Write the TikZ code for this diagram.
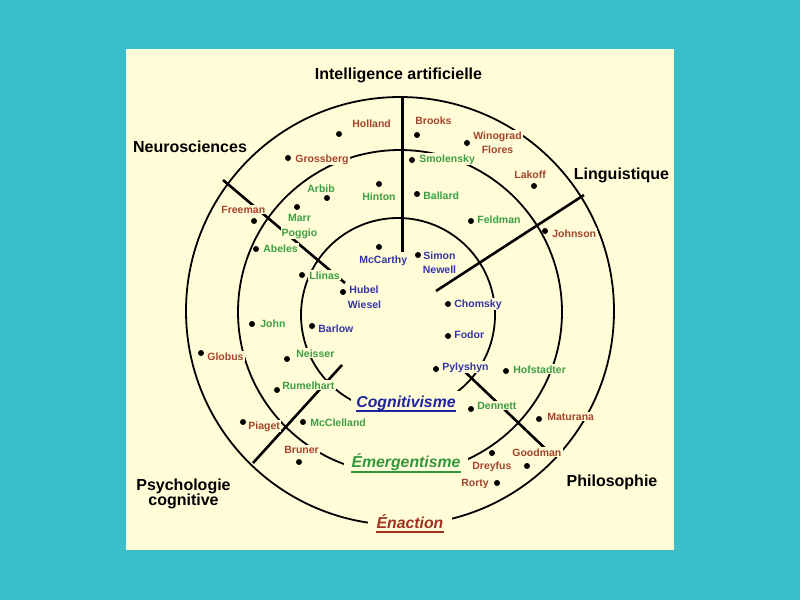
\documentclass[tikz,border=0pt]{standalone}
\usepackage{fontspec}
\setmainfont{Liberation Sans}
\definecolor{bgteal}{RGB}{58,190,201}
\definecolor{cream}{RGB}{255,252,215}
\definecolor{rname}{RGB}{165,68,45}
\definecolor{gname}{RGB}{62,158,68}
\definecolor{bname}{RGB}{52,52,168}
\definecolor{cogblue}{RGB}{30,35,160}
\definecolor{emegreen}{RGB}{50,150,60}
\definecolor{enared}{RGB}{160,50,35}
\tikzset{
  ring/.style={line width=1.8pt, black},
  divider/.style={line width=2.6pt, black},
  nm/.style={font=\fontsize{10.5}{12}\selectfont\bfseries, fill=cream, inner sep=1.2pt, anchor=base west},
  nmc/.style={nm, anchor=base},
  rn/.style={nm, text=rname},
  gn/.style={nm, text=gname},
  bn/.style={nm, text=bname},
  rnc/.style={nmc, text=rname},
  gnc/.style={nmc, text=gname},
  bnc/.style={nmc, text=bname},
  heading/.style={font=\fontsize{16}{18}\selectfont\bfseries, anchor=base, inner sep=0pt},
  school/.style={font=\fontsize{15.8}{18}\selectfont\bfseries\itshape, fill=cream, anchor=base, inner ysep=5pt},
  dot/.style={circle, fill=black, inner sep=0pt, minimum size=6pt}
}
\begin{document}
\begin{tikzpicture}[x=1pt,y=-1pt]
\fill[bgteal] (0,0) rectangle (800,600);
\fill[cream] (126,49) rectangle (674,550);
\useasboundingbox (0,0) rectangle (800,600);

% circles
\draw[ring] (400,311) circle[radius=214pt];
\draw[ring] (400,312) circle[radius=162pt];
\draw[ring] (398,315) circle[radius=97pt];

% dividers
\draw[divider] (402.5,96) -- (402.5,252);
\draw[divider] (223,180) -- (345,283);
\draw[divider] (584,195) -- (436,291);
\draw[divider] (253,463) -- (342,365);
\draw[divider] (462,369) -- (552,455);

% headings
\node[heading] (ia) at (398.5,79) {Intelligence artificielle};
\node[heading] (neuro) at (190,152) {Neurosciences};
\node[heading] (ling) at (621.5,179) {Linguistique};
\node[heading] (psy1) at (183.5,490) {Psychologie};
\node[heading] (psy2) at (183.5,505) {cognitive};
\node[heading] (philo) at (612,486) {Philosophie};

% schools
\node[school, text=cogblue, inner xsep=5pt] (cog) at (406,407) {Cognitivisme};
\draw[cogblue, line width=2.2pt] ([xshift=5pt,yshift=-4pt]cog.base west) -- ([xshift=-5pt,yshift=-4pt]cog.base east);
\node[school, text=emegreen, inner xsep=8pt, inner ysep=7pt] (eme) at (406,467) {Émergentisme};
\draw[emegreen, line width=2.2pt] ([xshift=8pt,yshift=-5pt]eme.base west) -- ([xshift=-8pt,yshift=-5pt]eme.base east);
\node[school, text=enared, inner xsep=9pt] (ena) at (410,528) {Énaction};
\draw[enared, line width=2.2pt] ([xshift=9pt,yshift=-4pt]ena.base west) -- ([xshift=-9pt,yshift=-4pt]ena.base east);

% red names
\node[rn] (holland) at (351,127) {Holland};
\node[rn] (grossberg) at (294,162) {Grossberg};
\node[rn] (brooks) at (414,124) {Brooks};
\node[rnc] (winograd) at (497.5,139) {Winograd};
\node[rnc] (flores) at (497.5,153) {Flores};
\node[rn] (lakoff) at (513,178) {Lakoff};
\node[rn] (johnson) at (551,237) {Johnson};
\node[rn] (freeman) at (220,213) {Freeman};
\node[rn] (globus) at (206,360) {Globus};
\node[rn] (piaget) at (247,429) {Piaget};
\node[rn] (bruner) at (283,453) {Bruner};
\node[rn] (maturana) at (546,420) {Maturana};
\node[rn] (goodman) at (511,456) {Goodman};
\node[rn] (dreyfus) at (471,469) {Dreyfus};
\node[rn] (rorty) at (460,486) {Rorty};

% green names
\node[gn] (arbib) at (306,192) {Arbib};
\node[gn] (hinton) at (361,200) {Hinton};
\node[gnc] (marr) at (299.5,221) {Marr};
\node[gnc] (poggio) at (299.5,236) {Poggio};
\node[gn] (smolensky) at (418,162) {Smolensky};
\node[gn] (ballard) at (422,199) {Ballard};
\node[gn] (feldman) at (476,223) {Feldman};
\node[gn] (abeles) at (262,252) {Abeles};
\node[gn] (llinas) at (308,279) {Llinas};
\node[gn] (john) at (259,327) {John};
\node[gn] (neisser) at (295,357) {Neisser};
\node[gn] (rumelhart) at (281,389) {Rumelhart};
\node[gn] (mcclelland) at (309,426) {McClelland};
\node[gn] (hofstadter) at (512,373) {Hofstadter};
\node[gn] (dennett) at (476,409) {Dennett};

% blue names
\node[bn] (mccarthy) at (358,263) {McCarthy};
\node[bnc] (simon) at (439.5,259) {Simon};
\node[bnc] (newell) at (439.5,273) {Newell};
\node[bnc] (hubel) at (364,293) {Hubel};
\node[bnc] (wiesel) at (364.5,308) {Wiesel};
\node[bn] (chomsky) at (453,307) {Chomsky};
\node[bn] (barlow) at (317,332) {Barlow};
\node[bn] (fodor) at (453,338) {Fodor};
\node[bn] (pylyshyn) at (441,370) {Pylyshyn};

% dots
\node[dot] (d1) at (339,134) {};
\node[dot] (d2) at (288,158) {};
\node[dot] (d3) at (417,135) {};
\node[dot] (d4) at (467,143) {};
\node[dot] (d5) at (534,186) {};
\node[dot] (d6) at (545,231) {};
\node[dot] (d7) at (254,221) {};
\node[dot] (d8) at (201,353) {};
\node[dot] (d9) at (243,422) {};
\node[dot] (d10) at (299,462) {};
\node[dot] (d11) at (539,419) {};
\node[dot] (d12) at (527,466) {};
\node[dot] (d13) at (492,453) {};
\node[dot] (d14) at (497,483) {};
\node[dot] (d15) at (327,198) {};
\node[dot] (d16) at (379,184) {};
\node[dot] (d17) at (297,207) {};
\node[dot] (d18) at (412,160) {};
\node[dot] (d19) at (417,194) {};
\node[dot] (d20) at (471,221) {};
\node[dot] (d21) at (256,249) {};
\node[dot] (d22) at (302,275) {};
\node[dot] (d23) at (252,324) {};
\node[dot] (d24) at (287,359) {};
\node[dot] (d25) at (277,390) {};
\node[dot] (d26) at (303,422) {};
\node[dot] (d27) at (506,371) {};
\node[dot] (d28) at (471,409) {};
\node[dot] (d29) at (379,247) {};
\node[dot] (d30) at (418,255) {};
\node[dot] (d31) at (343,292) {};
\node[dot] (d32) at (448,304) {};
\node[dot] (d33) at (312,326) {};
\node[dot] (d34) at (448,336) {};
\node[dot] (d35) at (436,369) {};
\end{tikzpicture}
\end{document}
